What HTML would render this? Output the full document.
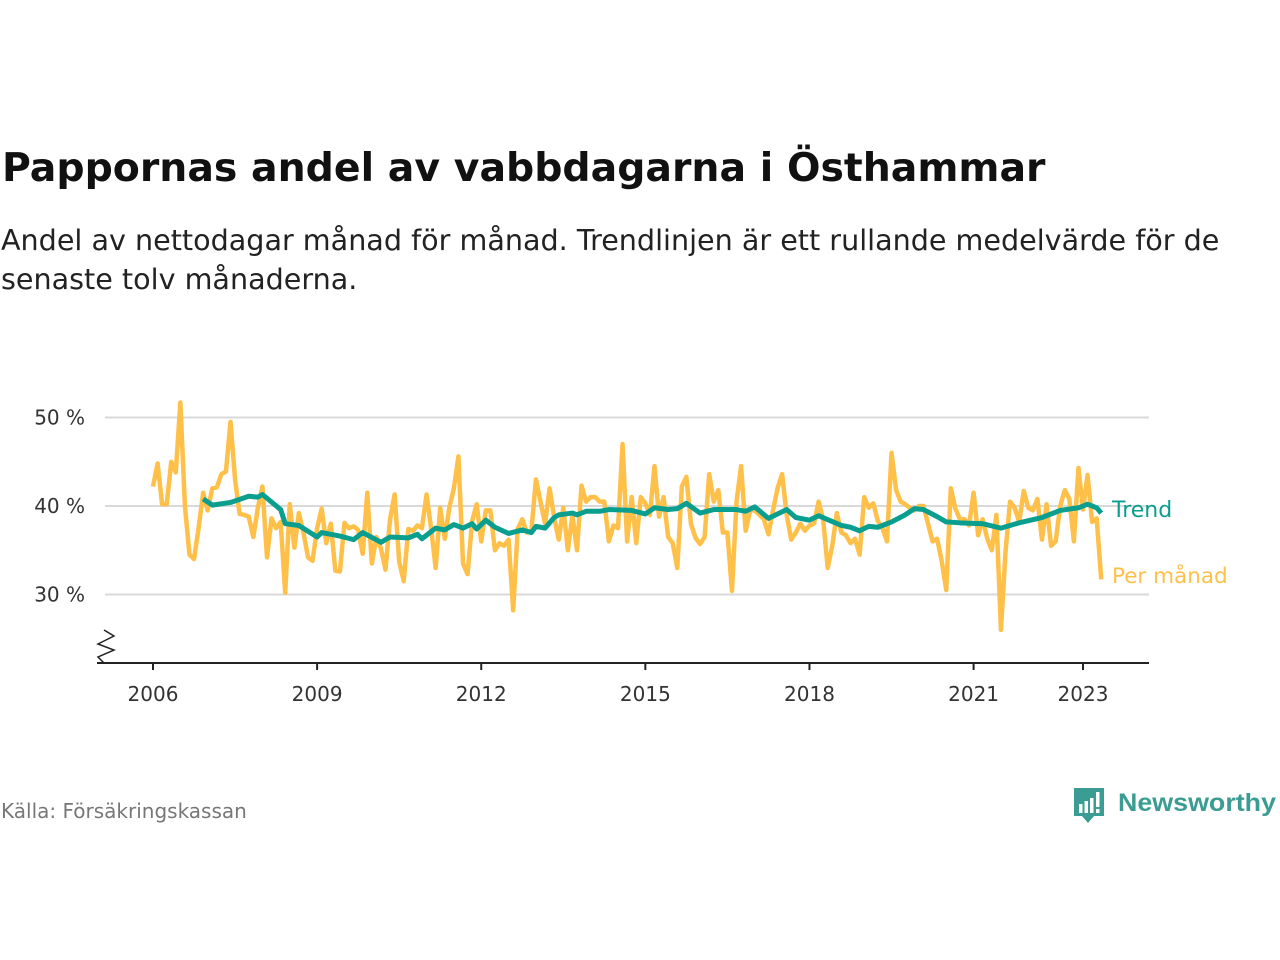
<!DOCTYPE html>
<html><head><meta charset="utf-8"><style>
body{margin:0;background:#fff;width:1280px;height:960px;overflow:hidden;font-family:"DejaVu Sans","Liberation Sans",sans-serif}
#title{position:absolute;left:2px;top:145px;font-size:39.4px;font-weight:bold;color:#111;margin:0;white-space:nowrap}
#sub{position:absolute;left:1px;top:221px;font-size:28.6px;color:#222;line-height:39px;width:1275px;white-space:nowrap}
#src{position:absolute;left:1px;top:799px;font-size:20px;color:#777}
#logo{position:absolute;left:1072px;top:786px;}
</style></head><body>
<h1 id="title">Pappornas andel av vabbdagarna i Östhammar</h1>
<div id="sub">Andel av nettodagar månad för månad. Trendlinjen är ett rullande medelvärde för de<br>senaste tolv månaderna.</div>
<svg id="chart" width="1280" height="960" style="position:absolute;left:0;top:0;font-family:'DejaVu Sans','Liberation Sans',sans-serif"></svg>
<div id="src">Källa: Försäkringskassan</div>
<div id="logo">
<svg width="210" height="42">
<path d="M2 2h30v28h-10l-6 7-6-7H2z" fill="#3a9c92"/>
<rect x="7" y="18" width="3.5" height="9" fill="#fff"/><rect x="12.5" y="15" width="3.5" height="12" fill="#fff"/><rect x="18" y="12" width="3.5" height="15" fill="#fff"/><rect x="24" y="6" width="3.5" height="15" fill="#fff"/><rect x="24" y="23" width="3.5" height="4" fill="#fff"/>
<text x="46" y="25" font-size="25" font-weight="bold" fill="#3a9c92" font-family="Liberation Sans, sans-serif" textLength="158" lengthAdjust="spacingAndGlyphs">Newsworthy</text>
</svg></div>
<script>
const perMonth=[42.2,44.8,40.2,40.2,45,43.8,51.7,40,34.5,34.0,37.5,41.5,
39.5,42,42.1,43.6,43.9,49.5,43,39.1,39,38.8,36.5,39.8,
42.2,34.2,38.6,37.5,38.2,30.2,40.2,35.3,39.2,37,34.2,33.8,
37.5,39.7,35.8,38,32.7,32.6,38.1,37.5,37.7,37.3,34.6,41.5,
33.5,36.5,35.2,32.8,38.5,41.3,33.7,31.5,37.4,37.2,37.8,37.5,
41.3,37.5,33,39.8,36.3,39.8,42,45.6,33.5,32.3,38.3,40.2,
36,39.5,39.5,35,35.8,35.5,36.2,28.2,37.4,38.5,37,37.2,
43,40.5,38,42,38.7,36.2,39.8,35,39,35,42.3,40.5,
41,41,40.5,40.5,36,37.8,37.5,47,36,41,35.8,41,
40.3,39,44.5,38.8,41,36.5,35.8,33,42.2,43.3,38,36.4,
35.7,36.5,43.6,40.5,41.8,37,37,30.4,40.5,44.5,37.2,39.5,
39.5,39,38.5,36.8,39.5,42,43.6,39,36.2,37,38,37.2,
37.8,38,40.5,38.5,33,35.5,39.2,37,36.7,35.8,36.3,34.5,
41,39.8,40.3,38.3,37.5,36,46,41.8,40.5,40.2,39.8,39.5,
40,40,38,36,36.3,33.8,30.5,42,39.7,38.5,38.5,37.8,
41.5,36.7,38.5,36.3,35,39,26,34.8,40.5,39.8,38.2,41.7,
39.8,39.5,40.8,36.2,40.2,35.5,36,40,41.8,40.8,36,44.3,
39.6,43.5,38.2,38.6,31.7];
const trendMonth=[11,13,17,21,23,24,28,29,32,36,37,41,44,46,50,52,56,58,59,62,64,66,68,70,71,73,75,78,81,83,84,86,88,89,92,93,95,98,100,105,108,110,113,115,117,120,123,128,130,132,135,139,141,144,146,151,153,155,157,159,162,165,167,169,172,174,177,182,186,188,190,195,199,203,205,207,208];
const trendValue=[40.8,40.1,40.4,41.1,41.0,41.3,39.6,38.0,37.8,36.5,37.0,36.6,36.2,37.0,35.9,36.5,36.4,36.8,36.3,37.5,37.3,37.9,37.5,38.0,37.4,38.4,37.6,36.9,37.3,37.0,37.7,37.5,38.7,39.0,39.2,39.0,39.4,39.4,39.6,39.5,39.1,39.8,39.6,39.7,40.3,39.2,39.6,39.6,39.4,39.9,38.6,39.6,38.7,38.4,38.9,37.8,37.6,37.2,37.7,37.6,38.2,39.0,39.7,39.6,38.8,38.2,38.1,38.0,37.5,37.8,38.1,38.7,39.5,39.8,40.2,39.8,39.2];
const yTicks=[30,40,50];
const yTickLabels=["30 %","40 %","50 %"];
const xTicks=[2006,2009,2012,2015,2018,2021,2023];
const NS="http://www.w3.org/2000/svg";
const svg=document.getElementById('chart');
const X=m=>153+m*(1083-153)/204;
const Xy=yr=>X((yr-2006)*12);
const Y=v=>506-(v-40)*8.85;
function el(t,a,p){const e=document.createElementNS(NS,t);for(const k in a)e.setAttribute(k,a[k]);(p||svg).appendChild(e);return e;}
yTicks.forEach((v,i)=>{
 const g=el('line',{x1:105,x2:1149,y1:Y(v),y2:Y(v),stroke:'#d9d9d9','stroke-width':2});
 
 
 const t=el('text',{x:85,y:Y(v)+7,'text-anchor':'end','font-size':20,fill:'#333'});
 t.textContent=yTickLabels[i];
 
 
});
const ax=el('line',{x1:97,x2:1149,y1:663,y2:663,stroke:'#222','stroke-width':2});


const br=el('path',{d:'M104 630 L114 636 L98 644 L114 650 L98 657 L104 663',fill:'none',stroke:'#222','stroke-width':1.5});


xTicks.forEach(yr=>{
 const tk=el('line',{x1:Xy(yr),x2:Xy(yr),y1:663,y2:670,stroke:'#222','stroke-width':2});
 
 
 const t=el('text',{x:Xy(yr),y:701,'text-anchor':'middle','font-size':20,fill:'#333'});
 t.textContent=yr;
 
 
});
const pm=el('polyline',{points:perMonth.map((v,i)=>X(i)+','+Y(v)).join(' '),fill:'none',stroke:'#ffc04a','stroke-width':4.5,'stroke-linejoin':'round'});


const tr=el('polyline',{points:trendValue.map((v,i)=>X(trendMonth[i])+','+Y(v)).join(' '),fill:'none',stroke:'#0a9e8f','stroke-width':5,'stroke-linejoin':'round'});


const l1=el('text',{x:1112,y:517,'font-size':22,fill:'#0a9e8f'});
l1.textContent='Trend';


const l2=el('text',{x:1112,y:583,'font-size':21.5,fill:'#ffc04a'});
l2.textContent='Per månad';


</script>
</body></html>
